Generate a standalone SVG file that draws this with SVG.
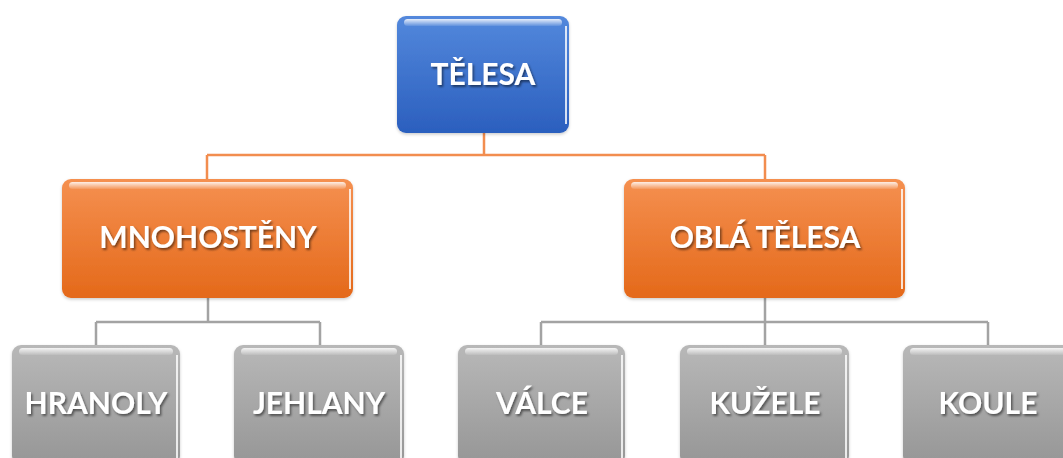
<svg xmlns="http://www.w3.org/2000/svg" width="1063" height="458" viewBox="0 0 1063 458">
<defs>
<linearGradient id="gBlue" x1="0" y1="0" x2="0" y2="1"><stop offset="0" stop-color="#5388dc"/><stop offset="1" stop-color="#2b5fbe"/></linearGradient>
<linearGradient id="gOrange" x1="0" y1="0" x2="0" y2="1"><stop offset="0" stop-color="#f59050"/><stop offset="1" stop-color="#e4691a"/></linearGradient>
<linearGradient id="gGray" x1="0" y1="0" x2="0" y2="1"><stop offset="0" stop-color="#b8b8b8"/><stop offset="1" stop-color="#969696"/></linearGradient>
<linearGradient id="gShine" x1="0" y1="0" x2="0" y2="1"><stop offset="0" stop-color="#fff" stop-opacity="0.85"/><stop offset="1" stop-color="#fff" stop-opacity="0.1"/></linearGradient>
<filter id="ts" x="-10%" y="-20%" width="130%" height="150%"><feDropShadow dx="1.5" dy="2" stdDeviation="1.2" flood-color="#000" flood-opacity="0.5"/></filter>
<filter id="bs" x="-5%" y="-5%" width="110%" height="115%"><feDropShadow dx="0" dy="1.5" stdDeviation="1.5" flood-color="#000" flood-opacity="0.2"/></filter>
</defs>
<style>
.box{filter:url(#bs)}
.hl{fill:url(#gShine)}
.edge{fill:none;stroke:#fff;stroke-opacity:0.8;stroke-width:2}
.t{font-family:Lato,"Open Sans",sans-serif;font-weight:bold;font-size:30px;fill:#fff;text-anchor:middle;filter:url(#ts)}
.co{fill:none;stroke:#f28d4f;stroke-width:2.5}
.cg{fill:none;stroke:#a3a3a3;stroke-width:2.5}
</style>
<g id="connectors">
<path class="co" d="M484 133V155M207 155H765M207 155V179M765 155V179"/>
<path class="cg" d="M208 298V322M96 322H320M96 322V345M320 322V345"/>
<path class="cg" d="M765 298V322M541 322H988M541 322V345M765 322V345M988 322V345"/>
</g>
<g id="n-telesa">
<rect class="box" x="397" y="16" width="172" height="117" rx="9" fill="url(#gBlue)"/>
<rect class="hl" x="404" y="19" width="158" height="7" rx="3.5"/>
<path class="edge" d="M566 26V124"/>
<text class="t" x="483" y="85">TĚLESA</text>
</g>
<g id="n-mnohosteny">
<rect class="box" x="62" y="179" width="291" height="119" rx="9" fill="url(#gOrange)"/>
<rect class="hl" x="69" y="182" width="277" height="7" rx="3.5"/>
<path class="edge" d="M350 189V289"/>
<text class="t" x="208" y="248">MNOHOSTĚNY</text>
</g>
<g id="n-obla">
<rect class="box" x="624" y="179" width="281" height="119" rx="9" fill="url(#gOrange)"/>
<rect class="hl" x="631" y="182" width="267" height="7" rx="3.5"/>
<path class="edge" d="M902 189V289"/>
<text class="t" x="765" y="248">OBLÁ TĚLESA</text>
</g>
<g id="n-hranoly">
<rect class="box" x="12" y="345" width="168" height="120" rx="9" fill="url(#gGray)"/>
<rect class="hl" x="19" y="348" width="154" height="7" rx="3.5"/>
<path class="edge" d="M177 355V458"/>
<text class="t" x="96" y="414">HRANOLY</text>
</g>
<g id="n-jehlany">
<rect class="box" x="234" y="345" width="170" height="120" rx="9" fill="url(#gGray)"/>
<rect class="hl" x="241" y="348" width="156" height="7" rx="3.5"/>
<path class="edge" d="M401 355V458"/>
<text class="t" x="319" y="414">JEHLANY</text>
</g>
<g id="n-valce">
<rect class="box" x="458" y="345" width="167" height="120" rx="9" fill="url(#gGray)"/>
<rect class="hl" x="465" y="348" width="153" height="7" rx="3.5"/>
<path class="edge" d="M622 355V458"/>
<text class="t" x="542" y="414">VÁLCE</text>
</g>
<g id="n-kuzele">
<rect class="box" x="680" y="345" width="169" height="120" rx="9" fill="url(#gGray)"/>
<rect class="hl" x="687" y="348" width="155" height="7" rx="3.5"/>
<path class="edge" d="M846 355V458"/>
<text class="t" x="765" y="414">KUŽELE</text>
</g>
<g id="n-koule">
<rect class="box" x="903" y="345" width="170" height="120" rx="9" fill="url(#gGray)"/>
<rect class="hl" x="910" y="348" width="156" height="7" rx="3.5"/>
<text class="t" x="988" y="414">KOULE</text>
</g>
</svg>
